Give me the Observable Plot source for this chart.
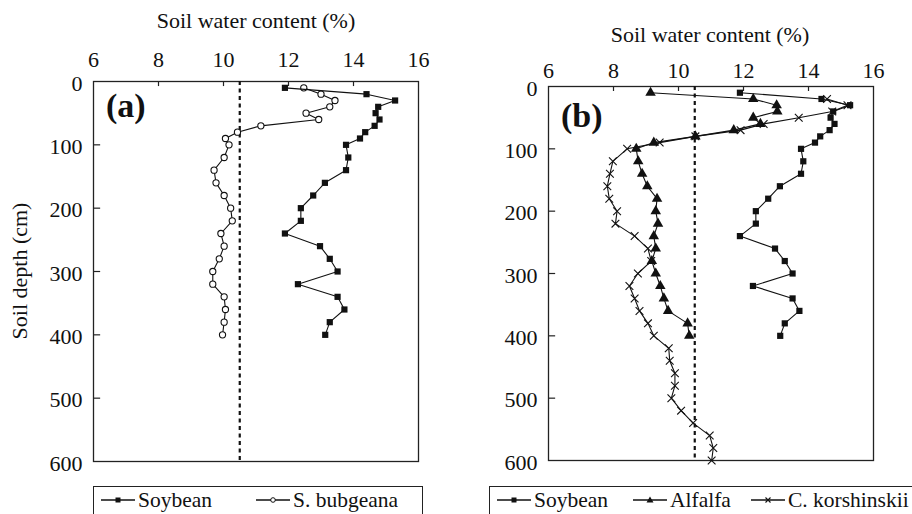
<!DOCTYPE html>
<html>
<head>
<meta charset="utf-8">
<script src="https://cdn.jsdelivr.net/npm/d3@7"></script>
<script src="https://cdn.jsdelivr.net/npm/@observablehq/plot@0.6"></script>
<style>
  html, body { margin: 0; padding: 0; background: #fff; }
  #root { position: relative; width: 912px; height: 514px; overflow: hidden; font-family: "Liberation Serif", "Times New Roman", serif; color: #111; }
  .abs { position: absolute; white-space: nowrap; }
  .title { font-size: 22px; line-height: 24px; transform: translate(-50%, -50%); }
  .plab { font-size: 34px; line-height: 36px; font-weight: bold; transform: translateY(-50%); }
  .box { border: 1.3px solid #222; height: 40px; box-sizing: border-box; top: 486px; }
  .ltext { font-size: 21.5px; line-height: 26px; top: 487px; }
</style>
</head>
<body>
<div id="root"></div>
<script>
// ---------------- data ----------------
const xTicks = [6, 8, 10, 12, 14, 16];
const yTicks = [0, 100, 200, 300, 400, 500, 600];
const threshold = 10.5;

const depths400 = [10,20,30,40,50,60,70,80,90,100,120,140,160,180,200,220,240,260,280,300,320,340,360,380,400];
const soybean = [11.89,14.40,15.28,14.76,14.68,14.80,14.65,14.36,14.20,13.77,13.84,13.77,13.12,12.76,12.38,12.38,11.89,12.97,13.27,13.51,12.29,13.51,13.72,13.27,13.13];
const bubgeana = [12.47,13.00,13.43,13.27,12.54,12.93,11.15,10.43,10.06,10.17,10.02,9.71,9.77,10.02,10.22,10.27,9.92,10.02,9.87,9.67,9.67,10.02,10.06,10.02,9.97];
const alfalfa = [9.14,12.30,13.02,13.04,12.30,12.52,11.70,10.52,9.24,8.70,8.76,8.88,9.04,9.34,9.30,9.37,9.24,9.30,9.18,9.30,9.44,9.55,9.68,10.28,10.33];
const depthsCK = [20,30,40,50,60,70,80,90,100,120,140,160,180,200,220,240,260,280,300,320,340,360,380,400,420,440,460,480,500,520,540,560,580,600];
const korshinskii = [14.57,15.20,14.73,13.70,12.62,11.91,10.52,9.42,8.42,7.98,7.89,7.81,7.87,8.11,8.06,8.65,9.06,9.16,8.75,8.49,8.65,8.80,9.06,9.24,9.70,9.73,9.89,9.89,9.78,10.08,10.45,10.96,11.07,11.02];

const mk = (vals, depths) => vals.map((v, i) => ({v, d: depths[i]}));
const soyData = mk(soybean, depths400);
const bubData = mk(bubgeana, depths400);
const alfData = mk(alfalfa, depths400);
const ckData = mk(korshinskii, depthsCK);

const root = document.getElementById("root");
const SERIF = '"Liberation Serif", "Times New Roman", serif';

function panel({left, width, mLeft, mRight, mTop, mBottom, padX, series}) {
  const marks = [
    Plot.frame({stroke: "#222", strokeWidth: 1.3}),
    Plot.ruleX([threshold], {stroke: "#111", strokeWidth: 2.2, strokeDasharray: "4,3.5"}),
    Plot.ruleX(xTicks.slice(1, -1), {x: d => d, y1: 0, y2: 8, stroke: "#222", strokeWidth: 1.2}),
    Plot.ruleY(yTicks.slice(1, -1), {y: d => d, x1: 6, x2: 6.22, stroke: "#222", strokeWidth: 1.2}),
    Plot.axisX({anchor: "top", ticks: xTicks, tickSize: 0, tickPadding: padX, label: null, tickFormat: d => String(d)}),
    Plot.axisY({anchor: "left", ticks: yTicks, tickSize: 0, tickPadding: 11, label: null, tickFormat: d => String(d), dy: 2})
  ];
  for (const s of series) {
    marks.push(Plot.line(s.data, {x: "v", y: "d", stroke: "#111", strokeWidth: 1.1}));
    marks.push(Plot.dot(s.data, {x: "v", y: "d", symbol: s.symbol, r: s.r, fill: s.fill, stroke: s.stroke, strokeWidth: s.sw}));
  }
  const svg = Plot.plot({
    width, height: 470,
    marginLeft: mLeft, marginRight: mRight, marginTop: mTop, marginBottom: mBottom,
    x: {domain: [6, 16]},
    y: {domain: [0, 600], reverse: true},
    style: {fontFamily: SERIF, fontSize: "22px", color: "#111", background: "transparent", overflow: "visible"},
    marks
  });
  svg.style.position = "absolute";
  svg.style.left = left + "px";
  svg.style.top = "0px";
  root.appendChild(svg);
}

const SOY = {data: soyData, symbol: "square", r: 3.5, fill: "#111", stroke: "none", sw: 0};
const BUB = {data: bubData, symbol: "circle", r: 3.1, fill: "#fff", stroke: "#111", sw: 1.1};
const ALF = {data: alfData, symbol: "triangle", r: 3.9, fill: "#111", stroke: "none", sw: 0};
const CK = {data: ckData, symbol: "times", r: 3.6, fill: "none", stroke: "#111", sw: 1.1};

panel({left: 0, width: 440, mLeft: 93, mRight: 22, mTop: 81, mBottom: 9, padX: 15, series: [BUB, SOY]});
panel({left: 456, width: 456, mLeft: 92, mRight: 39, mTop: 86, mBottom: 10, padX: 9, series: [SOY, ALF, CK]});

// ---------------- text ----------------
function addDiv(cls, text, styles) {
  const d = document.createElement("div");
  d.className = "abs " + cls;
  d.textContent = text;
  Object.assign(d.style, styles);
  root.appendChild(d);
  return d;
}
addDiv("title", "Soil water content (%)", {left: "256px", top: "21px"});
addDiv("title", "Soil water content (%)", {left: "710px", top: "35px"});
addDiv("plab", "(a)", {left: "106px", top: "106px"});
addDiv("plab", "(b)", {left: "561px", top: "116px"});
addDiv("title", "Soil depth (cm)", {left: "20px", top: "271px", transform: "translate(-50%,-50%) rotate(-90deg)"});

// ---------------- legends ----------------
function swatch(sym, x) {
  const ns = "http://www.w3.org/2000/svg";
  const s = document.createElementNS(ns, "svg");
  s.setAttribute("width", "36"); s.setAttribute("height", "20");
  s.style.position = "absolute"; s.style.left = x + "px"; s.style.top = "490px";
  let inner = '<line x1="1" x2="35" y1="10" y2="10" stroke="#111" stroke-width="1.3"/>';
  if (sym === "square") inner += '<rect x="15.5" y="7.5" width="5" height="5" fill="#111"/>';
  if (sym === "circle") inner += '<circle cx="18" cy="10" r="2.3" fill="#fff" stroke="#111" stroke-width="1"/>';
  if (sym === "triangle") inner += '<path d="M18,6.5 L21.5,12.5 L14.5,12.5 Z" fill="#111"/>';
  if (sym === "times") inner += '<path d="M15.5,7.5 L20.5,12.5 M20.5,7.5 L15.5,12.5" stroke="#111" stroke-width="1.1"/>';
  s.innerHTML = inner;
  root.appendChild(s);
}
const boxA = document.createElement("div"); boxA.className = "abs box"; Object.assign(boxA.style, {left: "93px", width: "330px"}); root.appendChild(boxA);
const boxB = document.createElement("div"); boxB.className = "abs box"; Object.assign(boxB.style, {left: "489px", width: "440px"}); root.appendChild(boxB);
const legendItems = [
  ["square", "Soybean", 100],
  ["circle", "S. bubgeana", 255],
  ["square", "Soybean", 496],
  ["triangle", "Alfalfa", 632],
  ["times", "C. korshinskii", 750]
];
for (const [sym, label, x] of legendItems) {
  swatch(sym, x);
  addDiv("ltext", label, {left: (x + 38) + "px"});
}
</script>
</body>
</html>
